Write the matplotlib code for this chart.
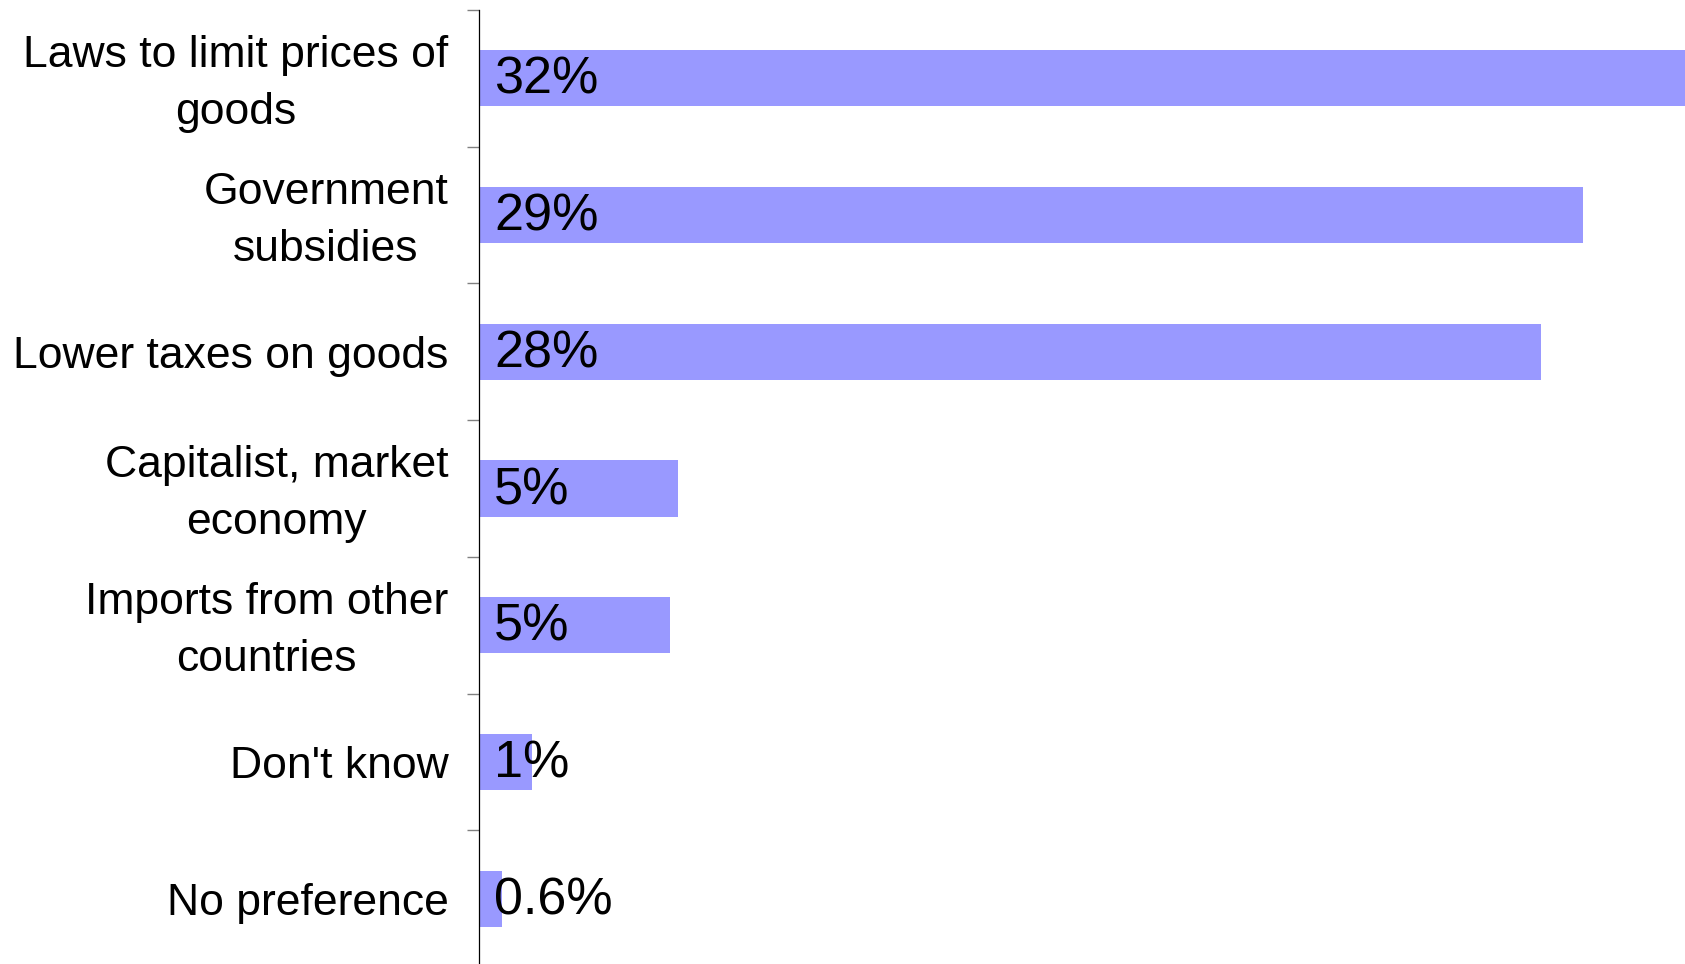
import numpy as np
import matplotlib
matplotlib.use("Agg")
import matplotlib.pyplot as plt
import matplotlib.transforms as mtransforms

# podaci
categories = ["Laws to limit prices of\ngoods", "Government\nsubsidies", "Lower taxes on goods",
              "Capitalist, market\neconomy", "Imports from other\ncountries", "Don't know", "No preference"]
values = [32.2, 28.9, 27.8, 5.2, 5.0, 1.4, 0.6]
value_labels = ["32%", "29%", "28%", "5%", "5%", "1%", "0.6%"]

plt.rcParams['font.family'] = ['Liberation Sans', 'DejaVu Sans']

fig = plt.figure(figsize=(16.85, 9.64), dpi=100)
ax = fig.add_axes([479 / 1685, -3 / 964, 1 - 479 / 1685, 957 / 964])

y = np.arange(len(categories))
ax.barh(y, values, height=0.41, color="#9999FF")

for i, lab in enumerate(value_labels):
    ax.annotate(lab, (0, y[i]), xytext=(11, -1.5), textcoords="offset points",
                va="center", ha="left", fontsize=37.5, color="black")

ax.set_xlim(0, (1685 - 479) / 38.2)
ax.set_ylim(len(categories) - 0.5, -0.5)

ax.set_yticks(y)
ax.set_yticklabels(categories, fontsize=32, multialignment="center", linespacing=1.5)
ax.tick_params(axis="y", which="major", length=0, pad=22)
ax.set_yticks(np.arange(len(categories) + 1) - 0.5, minor=True)
ax.tick_params(axis="y", which="minor", length=9, width=1, color="#808080", direction="out")
ax.set_xticks([])

# dvoredne oznake malo podignute
shift = mtransforms.ScaledTranslation(0, 5 / 72, fig.dpi_scale_trans)
for t in ax.get_yticklabels():
    if "\n" in t.get_text():
        t.set_transform(t.get_transform() + shift)

for s in ["top", "right", "bottom"]:
    ax.spines[s].set_visible(False)
ax.spines["left"].set_linewidth(0.9)

fig.savefig("out.png", dpi=100)
